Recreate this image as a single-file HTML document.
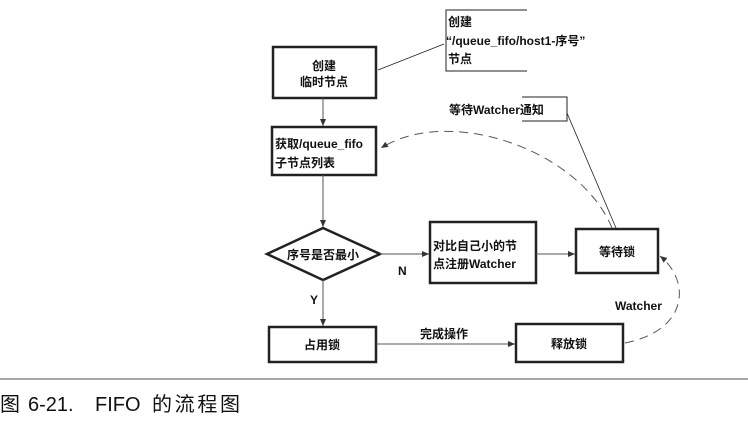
<!DOCTYPE html>
<html><head><meta charset="utf-8"><style>
body{margin:0;background:#fff;width:748px;height:424px;overflow:hidden}
svg text{font-family:"Liberation Sans","Noto Sans CJK SC",sans-serif;fill:#111}
</style></head><body>
<svg width="748" height="424" viewBox="0 0 748 424" xmlns="http://www.w3.org/2000/svg">
<defs><marker id="a" markerWidth="8" markerHeight="8" refX="7" refY="4" orient="auto"><path d="M0,1 L7,4 L0,7 z" fill="#333"/></marker></defs>
<g stroke="#222" fill="none">
<rect x="273" y="47" width="103" height="51" stroke-width="2.5"/>
<rect x="272" y="127" width="104" height="48" stroke-width="2.5"/>
<polygon points="267,254 323,228 380,254 323,280" stroke-width="2.5"/>
<rect x="430" y="222" width="106" height="61" stroke-width="2.5"/>
<rect x="576" y="229" width="82" height="44" stroke-width="2.5"/>
<rect x="269" y="327" width="107" height="35" stroke-width="2.5"/>
<rect x="516" y="324" width="107" height="38" stroke-width="2.5"/>
<path d="M527,10 H446 V71 H527" stroke-width="1"/>
<path d="M522,97 H567 V121 H522" stroke-width="1"/>
<line x1="378" y1="70" x2="444" y2="44" stroke-width="0.8"/>
<line x1="567" y1="113" x2="616" y2="228" stroke-width="0.8"/>
<g stroke="#555" stroke-width="1">
<line x1="323" y1="98" x2="323" y2="126" marker-end="url(#a)"/>
<line x1="323" y1="175" x2="323" y2="227" marker-end="url(#a)"/>
<line x1="323" y1="280" x2="323" y2="326" marker-end="url(#a)"/>
<line x1="380" y1="254" x2="429" y2="254" marker-end="url(#a)"/>
<line x1="536" y1="254" x2="575" y2="254" marker-end="url(#a)"/>
<line x1="376" y1="344" x2="515" y2="344" marker-end="url(#a)"/>
<path d="M612,228 C580,150 450,105 381,148" stroke-dasharray="9,6" marker-end="url(#a)"/>
<path d="M625,343 C690,330 690,280 660,256" stroke-dasharray="9,6" marker-end="url(#a)"/>
</g>
</g>
<g font-size="12" font-weight="bold">
<text x="324" y="70" text-anchor="middle">创建</text>
<text x="324" y="86" text-anchor="middle">临时节点</text>
<text x="275" y="148">获取/queue_fifo</text>
<text x="275" y="167">子节点列表</text>
<text x="323" y="259" text-anchor="middle">序号是否最小</text>
<text x="433" y="250">对比自己小的节</text>
<text x="433" y="268">点注册Watcher</text>
<text x="617" y="256" text-anchor="middle">等待锁</text>
<text x="322" y="349" text-anchor="middle">占用锁</text>
<text x="569" y="348" text-anchor="middle">释放锁</text>
<text x="448" y="26">创建</text>
<text x="446" y="45">“/queue_fifo/host1-序号”</text>
<text x="448" y="63">节点</text>
<text x="449" y="114">等待Watcher通知</text>
<text x="398" y="275">N</text>
<text x="310" y="304">Y</text>
<text x="420" y="338">完成操作</text>
<text x="615" y="310">Watcher</text>
</g>
<line x1="0" y1="379" x2="748" y2="379" stroke="#888" stroke-width="1.5"/>
<g font-size="20">
<text x="0" y="411">图</text>
<text x="28" y="411">6-21.</text>
<text x="95" y="411">FIFO</text>
<text x="152" y="411" textLength="88">的流程图</text>
</g>
</svg>
</body></html>
